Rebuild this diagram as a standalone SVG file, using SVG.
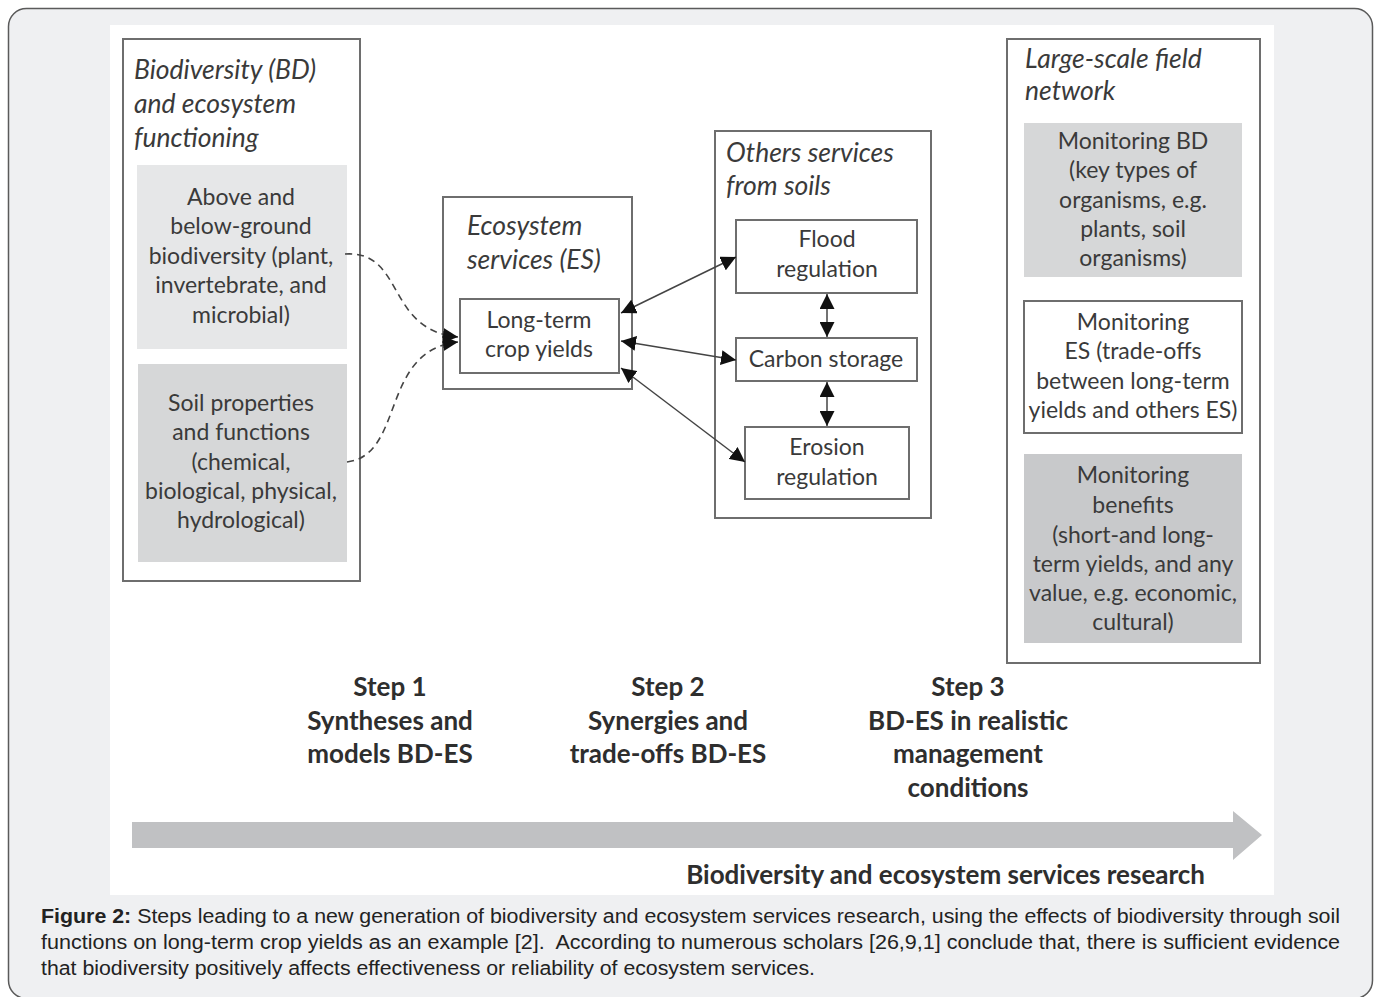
<svg xmlns="http://www.w3.org/2000/svg" width="1380" height="997" viewBox="0 0 1380 997">
<defs>
<style>
.box{fill:#fff;stroke:#6e6e6e;stroke-width:2}
.g1{fill:#e6e7e8}
.g2{fill:#d6d7d8}
.g3{fill:#c8c9cb}
.t{font-family:Lato,"Open Sans",sans-serif;font-size:23px;fill:#3a3a3a;text-anchor:middle}
.ti{font-family:Lato,"Open Sans",sans-serif;font-size:26.5px;font-style:italic;fill:#3a3a3a}
.st{font-family:Lato,"Open Sans",sans-serif;font-size:26px;font-weight:bold;fill:#2e2e2e;text-anchor:middle}
.cap{font-family:"Liberation Sans",Arial,sans-serif;font-size:19.5px;fill:#222;white-space:pre}
.dash{fill:none;stroke:#444;stroke-width:1.6;stroke-dasharray:7 5}
.sol{fill:none;stroke:#444;stroke-width:1.5}
</style>
<marker id="ah" viewBox="0 0 10 10" refX="10" refY="5" markerWidth="15" markerHeight="15" markerUnits="userSpaceOnUse" orient="auto-start-reverse">
<path d="M0,0 L10,5 L0,10 z" fill="#111"/>
</marker>
</defs>
<rect x="8.5" y="8.5" width="1364" height="990" rx="18" fill="#eff0f2" stroke="#5a5a5a" stroke-width="1.5"/>
<rect x="110" y="25" width="1164" height="870" fill="#fff"/>

<g id="bd-group">
<rect class="box" x="123" y="39" width="237" height="542"/>
<text class="ti" x="134" y="79">Biodiversity (BD)</text>
<text class="ti" x="134" y="113">and ecosystem</text>
<text class="ti" x="134" y="147">functioning</text>
</g>
<g id="above-below">
<rect class="g1" x="137" y="165" width="210" height="184"/>
<text class="t" x="241" y="205">Above and</text>
<text class="t" x="241" y="234">below-ground</text>
<text class="t" x="241" y="264">biodiversity (plant,</text>
<text class="t" x="241" y="293">invertebrate, and</text>
<text class="t" x="241" y="323">microbial)</text>
</g>
<g id="soil-props">
<rect class="g2" x="138" y="364" width="209" height="198"/>
<text class="t" x="241" y="411">Soil properties</text>
<text class="t" x="241" y="440">and functions</text>
<text class="t" x="241" y="470">(chemical,</text>
<text class="t" x="241" y="499">biological, physical,</text>
<text class="t" x="241" y="528">hydrological)</text>
</g>

<g id="es-group">
<rect class="box" x="443" y="197" width="189" height="192"/>
<text class="ti" x="467" y="235">Ecosystem</text>
<text class="ti" x="467" y="269">services (ES)</text>
</g>
<g id="crop-yields">
<rect class="box" x="460" y="299" width="159" height="74"/>
<text class="t" x="539" y="328">Long-term</text>
<text class="t" x="539" y="357">crop yields</text>
</g>

<g id="others-group">
<rect class="box" x="715" y="131" width="216" height="387"/>
<text class="ti" x="726" y="162">Others services</text>
<text class="ti" x="726" y="195">from soils</text>
</g>
<g id="flood">
<rect class="box" x="736" y="220" width="181" height="73"/>
<text class="t" x="827" y="247">Flood</text>
<text class="t" x="827" y="277">regulation</text>
</g>
<g id="carbon">
<rect class="box" x="736" y="338" width="181" height="43"/>
<text class="t" x="826" y="367">Carbon storage</text>
</g>
<g id="erosion">
<rect class="box" x="745" y="427" width="164" height="72"/>
<text class="t" x="827" y="455">Erosion</text>
<text class="t" x="827" y="485">regulation</text>
</g>

<g id="field-group">
<rect class="box" x="1007" y="39" width="253" height="624"/>
<text class="ti" x="1025" y="68">Large-scale field</text>
<text class="ti" x="1025" y="100">network</text>
</g>
<g id="mon-bd">
<rect class="g2" x="1024" y="123" width="218" height="154"/>
<text class="t" x="1133" y="149">Monitoring BD</text>
<text class="t" x="1133" y="178">(key types of</text>
<text class="t" x="1133" y="208">organisms, e.g.</text>
<text class="t" x="1133" y="237">plants, soil</text>
<text class="t" x="1133" y="266">organisms)</text>
</g>
<g id="mon-es">
<rect class="box" x="1024" y="301" width="218" height="132"/>
<text class="t" x="1133" y="330">Monitoring</text>
<text class="t" x="1133" y="359">ES (trade-offs</text>
<text class="t" x="1133" y="389">between long-term</text>
<text class="t" x="1133" y="418">yields and others ES)</text>
</g>
<g id="mon-benefits">
<rect class="g3" x="1024" y="454" width="218" height="189"/>
<text class="t" x="1133" y="483">Monitoring</text>
<text class="t" x="1133" y="513">benefits</text>
<text class="t" x="1133" y="543">(short-and long-</text>
<text class="t" x="1133" y="572">term yields, and any</text>
<text class="t" x="1133" y="601">value, e.g. economic,</text>
<text class="t" x="1133" y="630">cultural)</text>
</g>

<g id="connectors">
<path class="dash" d="M345,254 C405,250 385,330 458,337" marker-end="url(#ah)"/>
<path class="dash" d="M347,462 C405,455 380,350 458,342" marker-end="url(#ah)"/>
<line class="sol" x1="621" y1="313" x2="736" y2="257" marker-start="url(#ah)" marker-end="url(#ah)"/>
<line class="sol" x1="621" y1="341" x2="736" y2="360" marker-start="url(#ah)" marker-end="url(#ah)"/>
<line class="sol" x1="621" y1="368" x2="745" y2="462" marker-start="url(#ah)" marker-end="url(#ah)"/>
<line class="sol" x1="827" y1="294" x2="827" y2="337" marker-start="url(#ah)" marker-end="url(#ah)"/>
<line class="sol" x1="827" y1="382" x2="827" y2="426" marker-start="url(#ah)" marker-end="url(#ah)"/>
</g>

<g id="steps">
<text class="st" x="390" y="696">Step 1</text>
<text class="st" x="390" y="730">Syntheses and</text>
<text class="st" x="390" y="763">models BD-ES</text>
<text class="st" x="668" y="696">Step 2</text>
<text class="st" x="668" y="730">Synergies and</text>
<text class="st" x="668" y="763">trade-offs BD-ES</text>
<text class="st" x="968" y="696">Step 3</text>
<text class="st" x="968" y="730">BD-ES in realistic</text>
<text class="st" x="968" y="763">management</text>
<text class="st" x="968" y="797">conditions</text>
</g>

<g id="research-arrow">
<path d="M132,822 L1233,822 L1233,811 L1262,835 L1233,860 L1233,848 L132,848 z" fill="#c0c1c3"/>
<text class="st" x="1205" y="884" style="text-anchor:end">Biodiversity and ecosystem services research</text>
</g>

<g id="caption">
<text class="cap" x="41" y="923" textLength="1299" lengthAdjust="spacingAndGlyphs"><tspan font-weight="bold">Figure 2:</tspan> Steps leading to a new generation of biodiversity and ecosystem services research, using the effects of biodiversity through soil</text>
<text class="cap" x="41" y="949" textLength="1299" lengthAdjust="spacingAndGlyphs">functions on long-term crop yields as an example [2].  According to numerous scholars [26,9,1] conclude that, there is sufficient evidence</text>
<text class="cap" x="41" y="975" textLength="774" lengthAdjust="spacingAndGlyphs">that biodiversity positively affects effectiveness or reliability of ecosystem services.</text>
</g>
</svg>
